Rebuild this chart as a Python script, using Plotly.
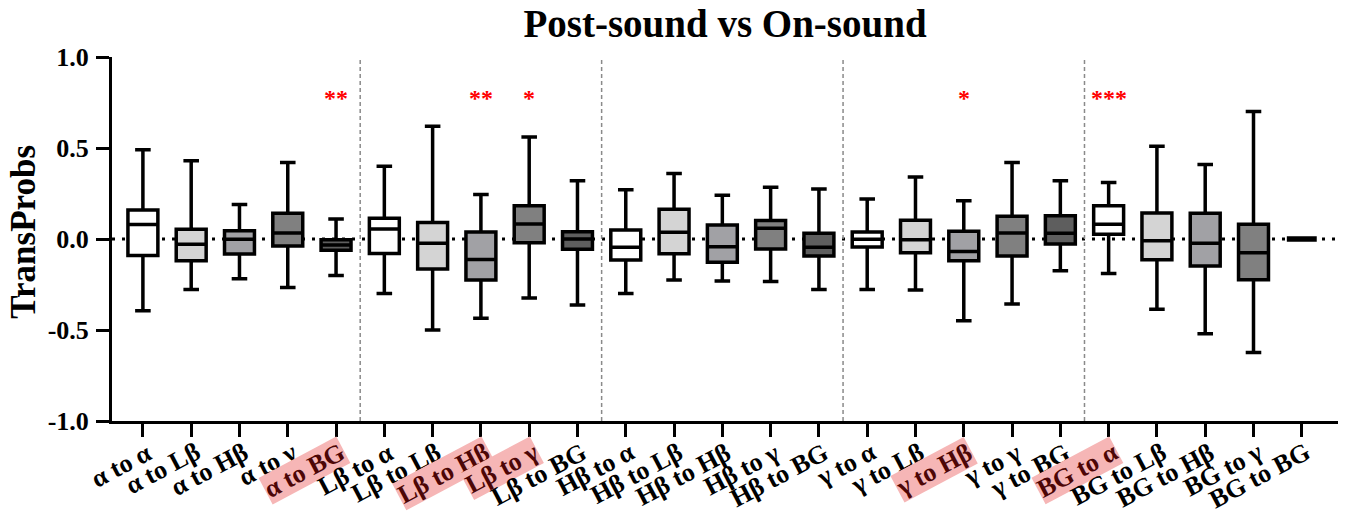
import plotly.graph_objects as go

labels = ["α to α", "α to Lβ", "α to Hβ", "α to γ", "α to BG",
          "Lβ to α", "Lβ to Lβ", "Lβ to Hβ", "Lβ to γ", "Lβ to BG",
          "Hβ to α", "Hβ to Lβ", "Hβ to Hβ", "Hβ to γ", "Hβ to BG",
          "γ to α", "γ to Lβ", "γ to Hβ", "γ to γ", "γ to BG",
          "BG to α", "BG to Lβ", "BG to Hβ", "BG to γ", "BG to BG"]

upper = [0.49, 0.43, 0.19, 0.42, 0.11,
         0.40, 0.62, 0.245, 0.56, 0.32,
         0.27, 0.36, 0.24, 0.285, 0.275,
         0.22, 0.34, 0.21, 0.42, 0.32,
         0.31, 0.51, 0.41, 0.70, 0.0]
q3 = [0.160, 0.053, 0.046, 0.141, -0.004,
      0.114, 0.090, 0.038, 0.183, 0.040,
      0.049, 0.163, 0.077, 0.101, 0.031,
      0.038, 0.103, 0.042, 0.125, 0.128,
      0.183, 0.143, 0.141, 0.081, 0.0]
median = [0.079, -0.029, -0.002, 0.033, -0.033,
          0.055, -0.024, -0.112, 0.082, 0.0,
          -0.046, 0.037, -0.042, 0.059, -0.046,
          -0.002, -0.004, -0.068, 0.033, 0.031,
          0.081, -0.009, -0.024, -0.075, 0.0]
q1 = [-0.090, -0.119, -0.082, -0.038, -0.062,
      -0.079, -0.165, -0.225, -0.020, -0.057,
      -0.115, -0.081, -0.128, -0.055, -0.093,
      -0.044, -0.075, -0.119, -0.093, -0.027,
      0.026, -0.114, -0.148, -0.224, 0.0]
lower = [-0.394, -0.277, -0.218, -0.267, -0.201,
         -0.300, -0.500, -0.436, -0.324, -0.363,
         -0.299, -0.225, -0.231, -0.233, -0.277,
         -0.278, -0.280, -0.449, -0.357, -0.174,
         -0.190, -0.386, -0.520, -0.623, 0.0]

group_colors = ["#ffffff", "#d4d4d4", "#a1a1a5", "#808080", "#5e5e5e"]

sig_idx = [4, 7, 8, 17, 20]
sig_text = ["**", "**", "*", "*", "***"]
sig_y = 0.775

highlighted = [4, 7, 8, 17, 20]

y_tickvals = [-1.0, -0.5, 0.0, 0.5, 1.0]
y_ticktext = ["-1.0", "-0.5", "0.0", "0.5", "1.0"]

FONT = "Liberation Serif"

fig = go.Figure()

for i, lab in enumerate(labels):
    lw = 5.5 if i == len(labels) - 1 else 3.5
    fig.add_trace(go.Box(
        x=[i], q1=[q1[i]], median=[median[i]], q3=[q3[i]],
        lowerfence=[lower[i]], upperfence=[upper[i]],
        orientation="v", width=0.62, whiskerwidth=0.52,
        fillcolor=group_colors[i % 5],
        line=dict(color="black", width=lw),
        boxpoints=False, name=lab, showlegend=False, hoverinfo="skip",
    ))

# zero dotted line
fig.add_shape(type="line", xref="paper", yref="y", x0=0, x1=1, y0=0, y1=0,
              line=dict(color="black", width=3, dash="3px,7px"), layer="below")
# group separators
for xs in [4.5, 9.5, 14.5, 19.5]:
    fig.add_shape(type="line", xref="x", yref="paper", x0=xs, x1=xs, y0=0, y1=1,
                  line=dict(color="#8a8a8a", width=1.5, dash="4px,3px"), layer="below")

annotations = []
for i, lab in enumerate(labels):
    hl = i in highlighted
    annotations.append(dict(
        x=i, y=0, xref="x", yref="paper", text="<b>%s</b>" % lab,
        showarrow=False, textangle=-28, xanchor="right", yanchor="top",
        xshift=15, yshift=-15,
        font=dict(family=FONT, size=26, color="#4d0606" if hl else "black"),
        bgcolor="#f6b6b6" if hl else "rgba(0,0,0,0)", borderpad=0,
    ))
for i, t in zip(sig_idx, sig_text):
    annotations.append(dict(
        x=i, y=sig_y, xref="x", yref="y", text="<b>%s</b>" % t, showarrow=False,
        font=dict(family=FONT, size=24, color="red"), xanchor="center", yanchor="middle",
    ))
annotations.append(dict(
    x=-88 / 1226, y=0.52, xref="paper", yref="paper", text="<b>TransProbs</b>",
    showarrow=False, textangle=-90, xanchor="center", yanchor="middle",
    font=dict(family=FONT, size=35, color="black"),
))

fig.update_layout(
    width=1346, height=513,
    margin=dict(l=112, r=8, t=57, b=92),
    paper_bgcolor="white", plot_bgcolor="white",
    title=dict(text="<b>Post-sound vs On-sound</b>", x=0.5, xref="paper",
               y=1 - 23 / 513, yref="container", yanchor="middle", xanchor="center",
               font=dict(family=FONT, size=39, color="black")),
    annotations=annotations,
    showlegend=False,
)
fig.update_xaxes(range=[-0.64, 24.75], tickvals=list(range(len(labels))),
                 ticktext=[""] * len(labels), ticks="outside", ticklen=13, tickwidth=3,
                 tickcolor="black", showline=True, linecolor="black", linewidth=3,
                 showgrid=False, zeroline=False, fixedrange=True)
fig.update_yaxes(range=[-1, 1], tickvals=y_tickvals, ticktext=y_ticktext,
                 ticks="outside", ticklen=13, tickwidth=3, tickcolor="black",
                 showline=True, linecolor="black", linewidth=3, showgrid=False,
                 zeroline=False,
                 tickfont=dict(family=FONT, size=26, color="black", weight="bold"),
                 ticklabelstandoff=2, fixedrange=True)

fig.write_html("out.html")
